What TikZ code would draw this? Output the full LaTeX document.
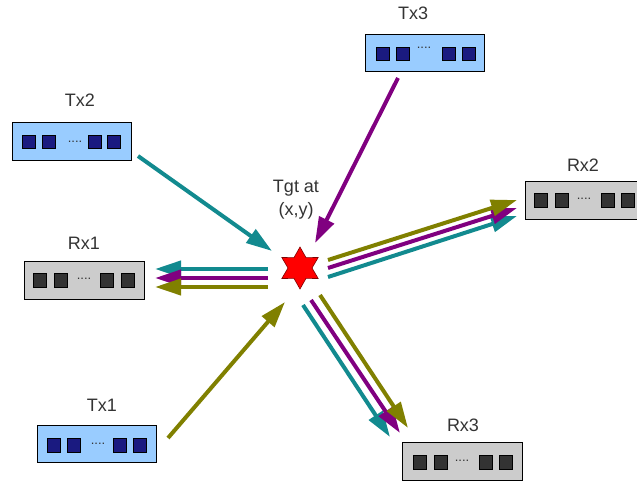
\documentclass[tikz,border=0pt]{standalone}
\usepackage{fontspec}
\setmainfont{Liberation Sans}
\usetikzlibrary{arrows.meta,shapes.geometric}
\definecolor{txfill}{HTML}{99CCFF}
\definecolor{txsq}{HTML}{1A1A80}
\definecolor{rxfill}{HTML}{CCCCCC}
\definecolor{rxsq}{HTML}{333333}
\definecolor{cteal}{HTML}{128A8F}
\definecolor{cpurple}{HTML}{800080}
\definecolor{colive}{HTML}{808000}
\definecolor{txtgray}{HTML}{333333}
\tikzset{
  txbox/.style={draw=black, line width=1pt, fill=txfill, minimum width=119pt, minimum height=37pt, inner sep=0pt},
  rxbox/.style={draw=black, line width=1pt, fill=rxfill, minimum width=120pt, minimum height=38pt, inner sep=0pt},
  txsqr/.style={fill=txsq, draw=black, line width=0.4pt, minimum size=13.5pt, inner sep=0pt},
  rxsqr/.style={fill=rxsq, draw=black, line width=0.4pt, minimum size=13.5pt, inner sep=0pt},
  lbl/.style={text=txtgray, font=\fontsize{18}{21}\selectfont, inner sep=0pt},
  dots/.style={text=txtgray, font=\fontsize{13}{13}\selectfont, inner sep=0pt},
  ray/.style={line width=4pt, -{Triangle[length=26pt,width=16pt]}},
}
\begin{document}
\begin{tikzpicture}[x=1pt,y=-1pt]
\useasboundingbox (0,0) rectangle (637,484);
% Tx2
\node[lbl] (tx2l) at (80,100) {Tx2};
\node[txbox] (tx2) at (71.5,141.5) {};
\node[txsqr] (tx2a) at (28.5,141.5) {};
\node[txsqr] (tx2b) at (48.5,141.5) {};
\node[dots] (tx2d) at (75,142) {....};
\node[txsqr] (tx2c) at (94.5,141.5) {};
\node[txsqr] (tx2e) at (113.5,141.5) {};
% Tx3
\node[lbl] (tx3l) at (413,13) {Tx3};
\node[txbox] (tx3) at (425,53) {};
\node[txsqr] (tx3a) at (382.5,53.5) {};
\node[txsqr] (tx3b) at (402.5,53.5) {};
\node[dots] (tx3d) at (424,48) {....};
\node[txsqr] (tx3c) at (448.5,53.5) {};
\node[txsqr] (tx3e) at (468.5,53.5) {};
% Tx1
\node[lbl] (tx1l) at (102,405) {Tx1};
\node[txbox] (tx1) at (96.5,444) {};
\node[txsqr] (tx1a) at (53.5,445) {};
\node[txsqr] (tx1b) at (73.5,445) {};
\node[dots] (tx1d) at (98,444) {....};
\node[txsqr] (tx1c) at (119.5,445) {};
\node[txsqr] (tx1e) at (139.5,445) {};
% Rx1
\node[lbl] (rx1l) at (84,243) {Rx1};
\node[rxbox] (rx1) at (84,280.5) {};
\node[rxsqr] (rx1a) at (39.5,280) {};
\node[rxsqr] (rx1b) at (60.5,280) {};
\node[dots] (rx1d) at (84,279) {....};
\node[rxsqr] (rx1c) at (106.5,280) {};
\node[rxsqr] (rx1e) at (127.5,280) {};
% Rx2
\node[lbl] (rx2l) at (583,165) {Rx2};
\node[rxbox] (rx2) at (585,200) {};
\node[rxsqr] (rx2a) at (540.5,200) {};
\node[rxsqr] (rx2b) at (561.5,200) {};
\node[dots] (rx2d) at (584,199) {....};
\node[rxsqr] (rx2c) at (607.5,200) {};
\node[rxsqr] (rx2e) at (627.5,200) {};
% Rx3
\node[lbl] (rx3l) at (463,425) {Rx3};
\node[rxbox] (rx3) at (462.5,461) {};
\node[rxsqr] (rx3a) at (419.5,462) {};
\node[rxsqr] (rx3b) at (440.5,462) {};
\node[dots] (rx3d) at (462,461) {....};
\node[rxsqr] (rx3c) at (485.5,462) {};
\node[rxsqr] (rx3e) at (505.5,462) {};
% target
\node[star, star points=6, star point ratio=1.75, minimum size=42pt, inner sep=0pt,
      fill=red, draw=red!50!black, line width=0.6pt] (tgt) at (300,268) {};
\node[lbl, align=center] (tgtl) at (296,200) {Tgt at\\[2pt](x,y)};
% incoming
\coordinate (i2s) at (138,156);
\coordinate (i2e) at (272,251);
\coordinate (i3s) at (398,78);
\coordinate (i3e) at (315,243);
\coordinate (i1s) at (168,438);
\coordinate (i1e) at (285,302);
\draw[ray, cteal] (i2s) -- (i2e);
\draw[ray, cpurple] (i3s) -- (i3e);
\draw[ray, colive] (i1s) -- (i1e);
% to Rx1
\coordinate (a1s) at (268,269); \coordinate (a1e) at (155,269);
\coordinate (b1s) at (268,278); \coordinate (b1e) at (155,278);
\coordinate (c1s) at (268,287); \coordinate (c1e) at (155,287);
\draw[ray, cteal] (a1s) -- (a1e);
\draw[ray, cpurple] (b1s) -- (b1e);
\draw[ray, colive] (c1s) -- (c1e);
% to Rx2
\coordinate (a2s) at (328,277); \coordinate (a2e) at (517,216);
\coordinate (b2s) at (328,268); \coordinate (b2e) at (517,208);
\coordinate (c2s) at (328,260); \coordinate (c2e) at (517,200);
\draw[ray, cteal] (a2s) -- (a2e);
\draw[ray, cpurple] (b2s) -- (b2e);
\draw[ray, colive] (c2s) -- (c2e);
% to Rx3
\coordinate (a3s) at (303,305); \coordinate (a3e) at (390,437);
\coordinate (b3s) at (311,300); \coordinate (b3e) at (400,433);
\coordinate (c3s) at (320,295); \coordinate (c3e) at (408,428);
\draw[ray, cteal] (a3s) -- (a3e);
\draw[ray, cpurple] (b3s) -- (b3e);
\draw[ray, colive] (c3s) -- (c3e);
\end{tikzpicture}
\end{document}
